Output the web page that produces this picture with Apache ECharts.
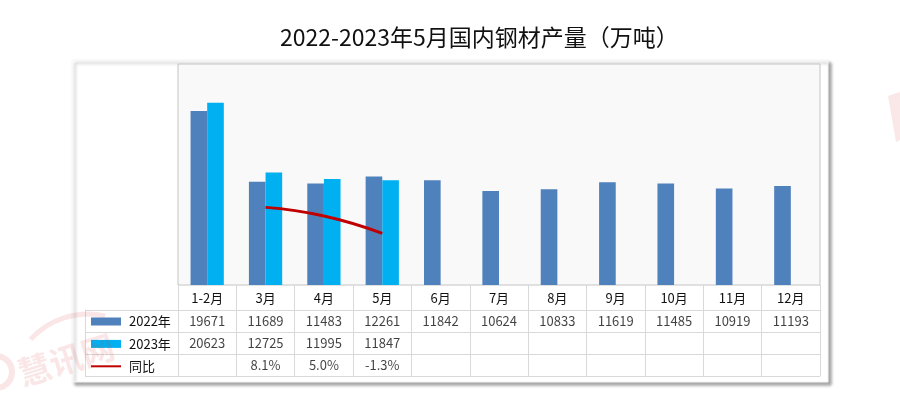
<!DOCTYPE html>
<html>
<head>
<meta charset="utf-8">
<script src="https://cdn.jsdelivr.net/npm/echarts@6/dist/echarts.min.js"></script>
<style>
  html, body { margin: 0; padding: 0; background: #fff; }
  #chart { width: 900px; height: 399px; }
</style>
</head>
<body>
<div id="chart"></div>
<script>
const months = ['1-2月', '3月', '4月', '5月', '6月', '7月', '8月', '9月', '10月', '11月', '12月']
const rows = ['2022年', '2023年', '同比']
const output2022 = [19671, 11689, 11483, 12261, 11842, 10624, 10833, 11619, 11485, 10919, 11193]
const output2023 = [20623, 12725, 11995, 11847, null, null, null, null, null, null, null]
const yoy = [null, 8.1, 5.0, -1.3, null, null, null, null, null, null, null]

const font = '"Noto Sans CJK SC", sans-serif'
const textColor = '#111'
const lineColor = '#d9d9d9'
const markColor = 'rgba(214,60,60,0.13)'

// table cells as [column, row, value]
const cells2022 = output2022.map((v, i) => [i, 0, v])
const cells2023 = output2023.map((v, i) => [i, 1, v]).filter((c) => c[2] != null)
const cellsYoy = yoy.map((v, i) => [i, 2, v]).filter((c) => c[2] != null)

const cellSeries = (data, fmt) => ({
  type: 'scatter',
  xAxisIndex: 1,
  yAxisIndex: 2,
  symbolSize: 0,
  silent: true,
  data,
  label: {
    show: true,
    position: 'inside',
    color: textColor,
    fontSize: 13,
    fontFamily: font,
    formatter: (p) => fmt(p.value[2])
  }
})

const chart = echarts.init(document.getElementById('chart'))
chart.setOption({
  animation: false,
  backgroundColor: '#fff',
  title: {
    text: '2022-2023年5月国内钢材产量（万吨）',
    left: 275,
    top: 21,
    textStyle: { fontSize: 23, fontWeight: 'normal', color: textColor, fontFamily: font }
  },
  graphic: [
    {
      type: 'rect',
      z: -10,
      shape: { x: 72, y: 60, width: 756, height: 322 },
      style: {
        fill: '#fff',
        stroke: '#f4f4f4',
        lineWidth: 1,
        shadowBlur: 3,
        shadowOffsetX: 3,
        shadowOffsetY: 3,
        shadowColor: 'rgba(0,0,0,0.35)'
      }
    },
    // watermark
    {
      type: 'text',
      z: 100,
      silent: true,
      x: 66,
      y: 360,
      rotation: 0.3,
      style: {
        text: '慧讯网',
        fontSize: 33,
        fontWeight: 'bold',
        fontFamily: '"Noto Sans CJK SC"',
        fill: markColor,
        align: 'center',
        verticalAlign: 'middle'
      }
    },
    {
      type: 'arc',
      z: 100,
      silent: true,
      shape: { cx: 88, cy: 392, r: 78, startAngle: -2.4, endAngle: -1.35 },
      style: { stroke: markColor, lineWidth: 5, fill: 'none' }
    },
    {
      type: 'arc',
      z: 100,
      silent: true,
      shape: { cx: -4, cy: 372, r: 16, startAngle: -1.4, endAngle: 1.4 },
      style: { stroke: markColor, lineWidth: 6, fill: 'none' }
    },
    {
      type: 'polygon',
      z: -20,
      shape: { points: [[888, 96], [900, 92], [900, 140], [896, 142]] },
      style: { fill: 'rgba(214,60,60,0.12)' }
    }
  ],
  legend: {
    data: [
      { name: rows[0], icon: 'rect' },
      { name: rows[1], icon: 'rect' },
      rows[2]
    ],
    orient: 'vertical',
    left: 90,
    top: 315,
    padding: 0,
    itemWidth: 30,
    itemHeight: 8,
    itemGap: 9.4,
    selectedMode: false,
    textStyle: { fontSize: 13, lineHeight: 13, color: textColor, fontFamily: font, padding: [0, 0, 0, 3] }
  },
  grid: [
    {
      left: 178, right: 80, top: 64, bottom: 114,
      show: true, backgroundColor: '#f9f9f9', borderColor: '#c4c4c4', borderWidth: 1
    },
    { left: 178, right: 80, top: 310, bottom: 22.7 }
  ],
  xAxis: [
    {
      type: 'category',
      gridIndex: 0,
      data: months,
      axisLine: { show: false },
      axisTick: { show: true, length: 25, lineStyle: { color: lineColor } },
      axisLabel: { color: textColor, fontSize: 13, fontFamily: font, margin: 7 }
    },
    {
      type: 'category',
      gridIndex: 1,
      data: months,
      position: 'top',
      axisLine: { show: true, lineStyle: { color: lineColor } },
      axisTick: { show: false },
      axisLabel: { show: false },
      splitLine: { show: true, lineStyle: { color: lineColor } }
    }
  ],
  yAxis: [
    { type: 'value', gridIndex: 0, min: 0, max: 25000, show: false },
    { type: 'value', gridIndex: 0, min: -20, max: 60, show: false },
    {
      type: 'category',
      gridIndex: 1,
      data: rows,
      inverse: true,
      axisLine: { show: true, lineStyle: { color: lineColor } },
      axisTick: { show: true, length: 93, lineStyle: { color: lineColor } },
      axisLabel: { show: false },
      splitLine: { show: true, lineStyle: { color: lineColor } }
    },
    {
      type: 'category',
      gridIndex: 1,
      data: rows,
      inverse: true,
      position: 'left',
      offset: 93,
      axisLine: { show: true, lineStyle: { color: lineColor } },
      axisTick: { show: false },
      axisLabel: { show: false }
    }
  ],
  series: [
    {
      name: '2022年',
      type: 'bar',
      data: output2022,
      barGap: '0%',
      barCategoryGap: '43%',
      itemStyle: { color: '#4f81bd' }
    },
    {
      name: '2023年',
      type: 'bar',
      data: output2023,
      itemStyle: { color: '#00b0f0' }
    },
    {
      name: '同比',
      type: 'line',
      yAxisIndex: 1,
      data: yoy,
      smooth: true,
      symbol: 'line',
      showSymbol: false,
      lineStyle: { color: '#c00000', width: 3 },
      itemStyle: { color: '#c00000' }
    },
    cellSeries(cells2022, (v) => String(v)),
    cellSeries(cells2023, (v) => String(v)),
    cellSeries(cellsYoy, (v) => v.toFixed(1) + '%')
  ]
})
</script>
</body>
</html>
